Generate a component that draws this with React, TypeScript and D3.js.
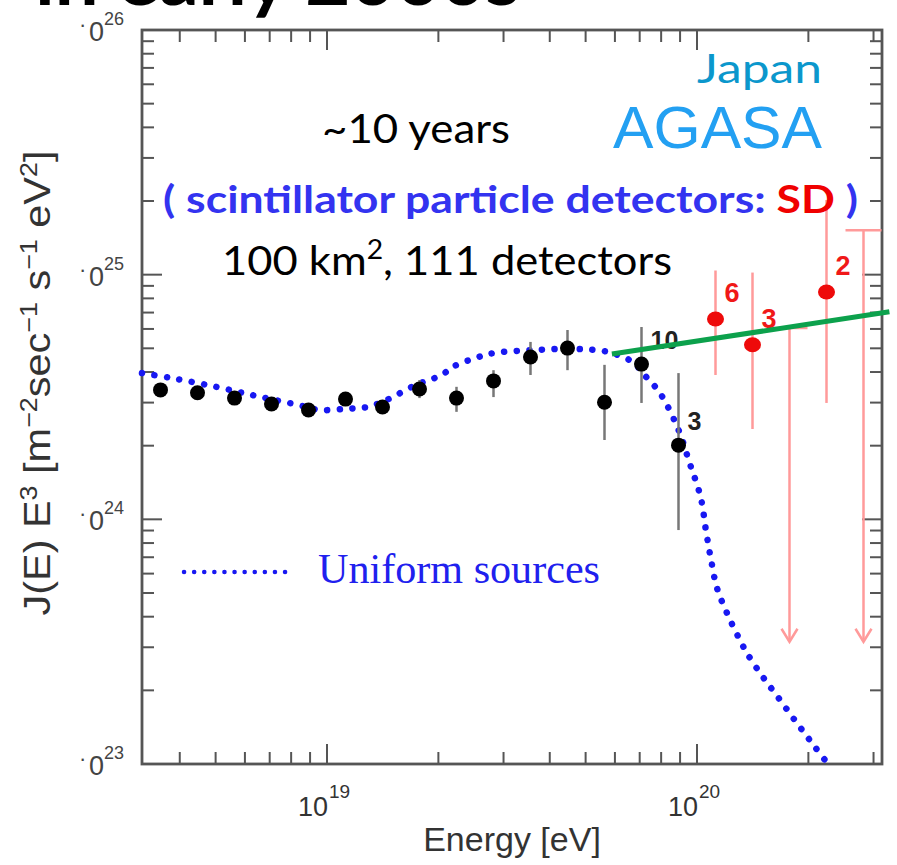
import React from "react"
import * as d3 from "d3"

// AGASA spectrum, flux values in units of 1e24 (J(E) E^3)
const agasaLogE = [18.55, 18.65, 18.75, 18.85, 18.95, 19.05, 19.15, 19.25, 19.35, 19.45, 19.55, 19.65, 19.75, 19.85, 19.95]
const agasaFlux = [3.38, 3.29, 3.13, 2.96, 2.8, 3.1, 2.88, 3.41, 3.13, 3.68, 4.61, 5.01, 3.01, 4.31, 2.01]
const agasaHigh = [3.5, 3.4, 3.24, 3.06, 2.9, 3.21, 2.98, 3.71, 3.48, 4.07, 5.31, 5.94, 4.28, 6.11, 3.96]
const agasaLow = [3.27, 3.18, 3.03, 2.86, 2.7, 2.99, 2.78, 3.13, 2.75, 3.16, 3.89, 4.07, 2.11, 2.99, 0.904]
const agasaCounts = ["", "", "", "", "", "", "", "", "", "", "", "", "", "10", "3"]

const sdLogE = [20.05, 20.15, 20.35]
const sdFlux = [6.59, 5.17, 8.49]
const sdHigh = [10.4, 10.2, 20.2]
const sdLow = [3.89, 2.34, 2.99]
const sdCounts = ["6", "3", "2"]

const limitLogE = [20.25, 20.45]
const limitTop = [6.05, 15.2]
const limitBottom = [0.316, 0.316]

// uniform sources model curve
const modelLogE = [18.5, 18.58, 18.7, 18.81, 18.92, 18.98, 19.05, 19.11, 19.16, 19.24, 19.31, 19.34, 19.4, 19.45, 19.56, 19.67, 19.76, 19.83, 19.85, 19.9, 19.95, 19.98, 20.01, 20.024, 20.038, 20.054, 20.081, 20.116, 20.138, 20.178, 20.224, 20.27, 20.314, 20.354]
const modelFlux = [3.96, 3.78, 3.48, 3.19, 2.94, 2.8, 2.83, 2.88, 3.07, 3.54, 3.89, 4.2, 4.56, 4.78, 4.92, 4.97, 4.83, 4.36, 4.01, 3.28, 2.32, 1.7, 1.23, 0.904, 0.683, 0.524, 0.414, 0.321, 0.279, 0.227, 0.183, 0.147, 0.12, 0.1]

const trendLogE = [19.77, 20.52]
const trendFlux = [4.74, 7.05]

const yDecades = [23, 24, 25, 26]
const xDecades = [19, 20]

const W = 897
const H = 865
const frame = { left: 142, right: 882, top: 30, bottom: 764 }

const x = d3.scaleLog().domain([10 ** 18.5, 10 ** 20.5]).range([frame.left, frame.right])
const y = d3.scaleLog().domain([1e23, 1e26]).range([frame.bottom, frame.top])
const ex = (l) => x(10 ** l)
const fy = (v) => y(v * 1e24)

const axisCol = "#555"
const blue = "#1818f2"
const lato = "Lato, 'Open Sans', sans-serif"
const helv = "'Liberation Sans', Arial, sans-serif"

function isMajor(v) {
  return Math.abs(Math.log10(v) - Math.round(Math.log10(v))) < 1e-6
}

export default function App() {
  const modelLine = d3
    .line()
    .x((d) => ex(d[0]))
    .y((d) => fy(d[1]))
    .curve(d3.curveCatmullRom.alpha(0.5))(modelLogE.map((l, i) => [l, modelFlux[i]]))

  const xTicks = x.ticks()
  const yTicks = y.ticks()

  return (
    <svg width={W} height={H} style={{ position: "absolute", left: 0, top: 0, background: "#fff" }}>
      {/* title, mostly cut off at top */}
      <text x={35} y={5} fontFamily={lato} fontWeight="bold" fontSize={72} fill="#000" textLength={485} lengthAdjust="spacingAndGlyphs">
        in early 2000s
      </text>

      {/* ticks on all four sides */}
      <g stroke={axisCol} strokeWidth={2}>
        {xTicks.map((t, i) => {
          const len = isMajor(t) ? 20 : 12
          const px = x(t)
          return (
            <g key={"xt" + i}>
              <line x1={px} x2={px} y1={frame.bottom} y2={frame.bottom - len} />
              <line x1={px} x2={px} y1={frame.top} y2={frame.top + len} />
            </g>
          )
        })}
        {yTicks.map((t, i) => {
          const len = isMajor(t) ? 20 : 12
          const py = y(t)
          return (
            <g key={"yt" + i}>
              <line x1={frame.left} x2={frame.left + len} y1={py} y2={py} />
              <line x1={frame.right} x2={frame.right - len} y1={py} y2={py} />
            </g>
          )
        })}
      </g>
      <rect x={frame.left} y={frame.top} width={frame.right - frame.left} height={frame.bottom - frame.top} fill="none" stroke={axisCol} strokeWidth={2.8} />

      {/* y tick labels */}
      {yDecades.map((d) => {
        const py = y(10 ** d)
        return (
          <g key={"yl" + d} fontFamily={helv} fill="#444">
            <text x={79} y={py + 2} fontSize={22}>·</text>
            <text x={89} y={py + 11} fontSize={27}>0</text>
            <text x={104} y={py - 5} fontSize={18}>{d}</text>
          </g>
        )
      })}

      {/* x tick labels */}
      {xDecades.map((d) => {
        const px = ex(d)
        return (
          <g key={"xl" + d} fontFamily={helv} fill="#333">
            <text x={px + 1} y={816} fontSize={27} textAnchor="end">10</text>
            <text x={px + 2} y={798} fontSize={19}>{d}</text>
          </g>
        )
      })}

      {/* axis titles */}
      <text x={512} y={851} fontFamily={helv} fontSize={34} fill="#333" textAnchor="middle">
        Energy [eV]
      </text>
      <text transform="translate(50,383) rotate(-90)" fontFamily={helv} fontSize={37} fill="#333" textAnchor="middle" textLength={465} lengthAdjust="spacingAndGlyphs">
        J(E) E<tspan fontSize={24} dy={-13}>3</tspan>
        <tspan dy={13}> [m</tspan>
        <tspan fontSize={24} dy={-13}>−2</tspan>
        <tspan dy={13}>sec</tspan>
        <tspan fontSize={24} dy={-13}>−1</tspan>
        <tspan dy={13}> s</tspan>
        <tspan fontSize={24} dy={-13}>−1</tspan>
        <tspan dy={13}> eV</tspan>
        <tspan fontSize={24} dy={-13}>2</tspan>
        <tspan dy={13}>]</tspan>
      </text>

      {/* model curve */}
      <path d={modelLine} fill="none" stroke={blue} strokeWidth={6.5} strokeLinecap="round" strokeDasharray="0.1 12.5" />

      {/* AGASA black points */}
      <g stroke="#777" strokeWidth={2.5}>
        {agasaLogE.map((l, i) => (
          <line key={"ae" + i} x1={ex(l)} x2={ex(l)} y1={fy(agasaHigh[i])} y2={fy(agasaLow[i])} />
        ))}
      </g>
      {agasaLogE.map((l, i) => (
        <circle key={"ap" + i} cx={ex(l)} cy={fy(agasaFlux[i])} r={7.5} fill="#000" />
      ))}
      {agasaLogE.map((l, i) =>
        agasaCounts[i] ? (
          <text key={"ac" + i} x={ex(l) + 9} y={fy(agasaFlux[i]) - 15} fontFamily={helv} fontWeight="bold" fontSize={25} fill="#222">
            {agasaCounts[i]}
          </text>
        ) : null
      )}

      {/* SD red points */}
      <g stroke="#ff9a9a" strokeWidth={2.5} fill="none">
        {sdLogE.map((l, i) => (
          <line key={"se" + i} x1={ex(l)} x2={ex(l)} y1={fy(sdHigh[i])} y2={fy(sdLow[i])} />
        ))}
        {limitLogE.map((l, i) => {
          const px = ex(l)
          const y0 = fy(limitTop[i])
          const y1 = fy(limitBottom[i])
          return (
            <g key={"ul" + i}>
              <line x1={px} x2={px} y1={y0} y2={y1} />
              <line x1={px - 18} x2={px + 18} y1={y0} y2={y0} />
              <path d={`M${px - 8},${y1 - 13}L${px},${y1}L${px + 8},${y1 - 13}`} />
            </g>
          )
        })}
      </g>
      {sdLogE.map((l, i) => (
        <ellipse key={"sp" + i} cx={ex(l)} cy={fy(sdFlux[i])} rx={8.5} ry={7.5} fill="#ee0a0a" />
      ))}
      {sdLogE.map((l, i) => (
        <text key={"sc" + i} x={ex(l) + 9} y={fy(sdFlux[i]) - 17} fontFamily={helv} fontWeight="bold" fontSize={27} fill="#f01818">
          {sdCounts[i]}
        </text>
      ))}

      {/* green trend line */}
      <line x1={ex(trendLogE[0])} y1={fy(trendFlux[0])} x2={ex(trendLogE[1])} y2={fy(trendFlux[1])} stroke="#0ca14c" strokeWidth={5} />

      {/* legend */}
      <line x1={184} x2={294} y1={572} y2={572} stroke={blue} strokeWidth={4.5} strokeLinecap="round" strokeDasharray="0.1 10" />
      <text x={318} y={583} fontFamily="'Liberation Serif', 'Times New Roman', serif" fontSize={42} fill="#2020ee" textLength={282} lengthAdjust="spacingAndGlyphs">
        Uniform sources
      </text>

      {/* annotations */}
      <text x={697} y={83} fontFamily={lato} fontSize={40} fill="#0b97cc" textLength={125} lengthAdjust="spacingAndGlyphs">
        Japan
      </text>
      <text x={613} y={148} fontFamily={helv} fontSize={59} fill="#23a0f2" textLength={209} lengthAdjust="spacingAndGlyphs">
        AGASA
      </text>
      <text x={322} y={143} fontFamily={lato} fontSize={40} fill="#000" textLength={188} lengthAdjust="spacingAndGlyphs">
        ~10 years
      </text>
      <text x={163} y={213} fontFamily={lato} fontWeight="bold" fontSize={38} fill="#3333f0" textLength={695} lengthAdjust="spacingAndGlyphs">
        ( scintillator particle detectors: <tspan fill="#f00000">SD</tspan> )
      </text>
      <text x={222} y={275} fontFamily={lato} fontSize={40} fill="#000" textLength={450} lengthAdjust="spacingAndGlyphs">
        100 km<tspan fontSize={26} dy={-16}>2</tspan>
        <tspan dy={16}>, 111 detectors</tspan>
      </text>
    </svg>
  )
}
